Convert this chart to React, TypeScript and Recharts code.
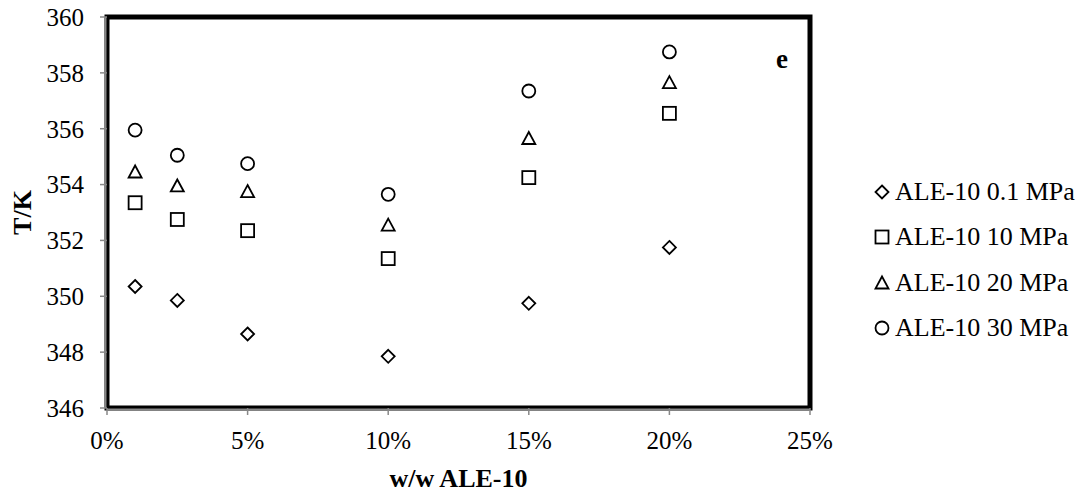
import { ScatterChart, Scatter, XAxis, YAxis, ReferenceArea } from "recharts";

// ALE-10 loading, % w/w
const LOADING = [1, 2.5, 5, 10, 15, 20];

// transition temperature (K) at each pressure
const T_01MPA = [350.35, 349.85, 348.65, 347.85, 349.75, 351.75];
const T_10MPA = [353.35, 352.75, 352.35, 351.35, 354.25, 356.55];
const T_20MPA = [354.45, 353.95, 353.75, 352.55, 355.65, 357.65];
const T_30MPA = [355.95, 355.05, 354.75, 353.65, 357.35, 358.75];

const X_TICKS = [0, 5, 10, 15, 20, 25];
const Y_TICKS = [346, 348, 350, 352, 354, 356, 358, 360];

const FONT = "'Times New Roman', 'Liberation Serif', serif";
const INK = "#000";

const toPoints = (vals: number[]) => LOADING.map((x, i) => ({ x, y: vals[i] }));

type Marker = "diamond" | "square" | "triangle" | "circle";

const drawMarker = (kind: Marker, cx: number, cy: number) => {
  const p = { fill: "none", stroke: INK, strokeWidth: 1.8 };
  switch (kind) {
    case "diamond":
      return <path d={`M${cx},${cy - 6.5}L${cx + 6.5},${cy}L${cx},${cy + 6.5}L${cx - 6.5},${cy}Z`} {...p} />;
    case "square":
      return <rect x={cx - 6.5} y={cy - 6.5} width={13} height={13} {...p} />;
    case "triangle":
      return <path d={`M${cx},${cy - 6.5}L${cx + 6.5},${cy + 5.5}L${cx - 6.5},${cy + 5.5}Z`} {...p} />;
    default:
      return <circle cx={cx} cy={cy} r={6.5} {...p} />;
  }
};

const SERIES: { name: string; values: number[]; marker: Marker }[] = [
  { name: "ALE-10 0.1 MPa", values: T_01MPA, marker: "diamond" },
  { name: "ALE-10 10 MPa", values: T_10MPA, marker: "square" },
  { name: "ALE-10 20 MPa", values: T_20MPA, marker: "triangle" },
  { name: "ALE-10 30 MPa", values: T_30MPA, marker: "circle" },
];

// legend sits to the right of the plot, outside the chart's layout
const LegendList = () => (
  <div style={{ position: "absolute", left: 873, top: 169, fontFamily: FONT, fontSize: 26, color: INK }}>
    {SERIES.map((s) => (
      <div key={s.name} style={{ display: "flex", alignItems: "center", height: 45.5 }}>
        <svg width={18} height={18} style={{ marginRight: 4 }}>
          {drawMarker(s.marker, 9, 9)}
        </svg>
        <span style={{ whiteSpace: "nowrap" }}>{s.name}</span>
      </div>
    ))}
  </div>
);

export default function App() {
  return (
    <div style={{ position: "absolute", left: 0, top: 0, width: 1088, height: 497, background: "#fff" }}>
      <ScatterChart width={1088} height={497} margin={{ top: 17, right: 278, bottom: 0, left: 0 }}>
        <ReferenceArea
          x1={0}
          x2={25}
          y1={346}
          y2={360}
          fill="none"
          stroke={INK}
          strokeWidth={5}
          label={(props: any) => {
            const vb = props.viewBox;
            return (
              <text x={vb.x + vb.width - 22} y={vb.y + 51} textAnchor="end" fontFamily={FONT} fontSize={27} fontWeight="bold" fill={INK}>
                e
              </text>
            );
          }}
        />
        <XAxis
          type="number"
          dataKey="x"
          domain={[0, 25]}
          ticks={X_TICKS}
          interval={0}
          tickFormatter={(v: number) => `${v}%`}
          height={89}
          tickSize={7}
          tickMargin={16}
          axisLine={{ stroke: "#888", strokeWidth: 2, transform: "translate(0,1.5)" }}
          tickLine={{ stroke: "#888", strokeWidth: 1.5 }}
          tick={{ fontFamily: FONT, fontSize: 25, fill: INK }}
          label={{ value: "w/w ALE-10", position: "insideBottom", offset: 10, fontFamily: FONT, fontSize: 26, fontWeight: "bold", fill: INK }}
        />
        <YAxis
          type="number"
          dataKey="y"
          domain={[346, 360]}
          ticks={Y_TICKS}
          interval={0}
          width={107}
          tickSize={7}
          tickMargin={16}
          axisLine={{ stroke: "#888", strokeWidth: 2, transform: "translate(-1.5,0)" }}
          tickLine={{ stroke: "#888", strokeWidth: 1.5 }}
          tick={{ fontFamily: FONT, fontSize: 25, fill: INK }}
          label={(props: any) => {
            const vb = props.viewBox;
            const cy = vb.y + vb.height / 2;
            return (
              <text x={22} y={cy} transform={`rotate(-90, 22, ${cy})`} textAnchor="middle" dominantBaseline="central" fontFamily={FONT} fontSize={26} fontWeight="bold" fill={INK}>
                T/K
              </text>
            );
          }}
        />
        {SERIES.map((s) => (
          <Scatter
            key={s.name}
            name={s.name}
            data={toPoints(s.values)}
            isAnimationActive={false}
            shape={(p: any) => drawMarker(s.marker, p.cx, p.cy)}
          />
        ))}
      </ScatterChart>
      <LegendList />
    </div>
  );
}
